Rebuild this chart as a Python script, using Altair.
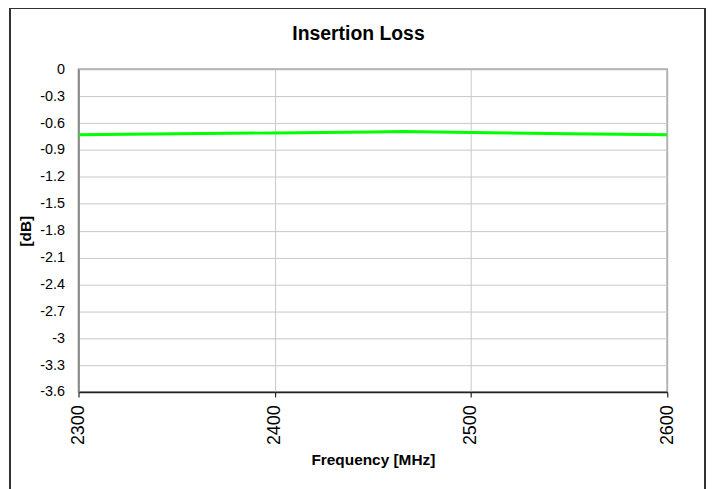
import altair as alt
import pandas as pd

freq = [2300, 2350, 2400, 2450, 2465, 2500, 2550, 2600]
loss = [-0.73, -0.72, -0.71, -0.70, -0.695, -0.705, -0.72, -0.73]
y_ticks = [0, -0.3, -0.6, -0.9, -1.2, -1.5, -1.8, -2.1, -2.4, -2.7, -3.0, -3.3, -3.6]
x_ticks = [2300, 2400, 2500, 2600]
title_text = ["Insertion Loss"]

df = pd.DataFrame({"freq": freq, "loss": loss})
tdf = pd.DataFrame({"t": title_text})

W, H = 593, 325
FONT = "Liberation Sans"

line = alt.Chart(df).mark_line(color="#00ff00", strokeWidth=3, clip=True).encode(
    x=alt.X("freq:Q", scale=alt.Scale(domain=[2300, 2600], nice=False),
            axis=alt.Axis(values=x_ticks, format="d", title="Frequency [MHz]", labelAngle=270,
                          labelAlign="right", labelBaseline="middle",
                          labelFont=FONT, labelFontSize=18, labelColor="black",
                          titleFont=FONT, titleFontSize=15.5, titleFontWeight="bold",
                          titleColor="black", titlePadding=8,
                          domainColor="#222222", domainWidth=1.5,
                          tickColor="#222222", tickSize=5, tickWidth=1.2, labelPadding=8,
                          gridColor="#c8c8c8")),
    y=alt.Y("loss:Q", scale=alt.Scale(domain=[-3.6, 0], nice=False),
            axis=alt.Axis(values=y_ticks, format=".1~f",
                          labelExpr="replace(datum.label, '\u2212', '-')",
                          title="[dB]",
                          labelFont=FONT, labelFontSize=14.5, labelColor="black",
                          titleFont=FONT, titleFontSize=15.5, titleFontWeight="bold",
                          titleColor="black", titlePadding=6,
                          domainColor="#808080", domainWidth=1.5,
                          ticks=False, labelPadding=14,
                          gridColor="#c8c8c8")),
)

frame = alt.Chart(df).mark_rect(fill=None, stroke="#333333", strokeWidth=1.5).encode(
    x=alt.value(-69), x2=alt.value(631), y=alt.value(-62), y2=alt.value(430)
)

title = alt.Chart(tdf).mark_text(font=FONT, fontSize=19.5, fontWeight="bold", color="black",
                                 align="center", baseline="alphabetic").encode(
    text="t:N", x=alt.value(282), y=alt.value(-29)
)

chart = alt.layer(frame, line, title).properties(
    width=W, height=H,
    autosize=alt.AutoSizeParams(type="none"),
    padding={"left": 71, "top": 60, "right": 39, "bottom": 96},
).configure_view(stroke="#808080", strokeWidth=1.5)

chart.save("out.html", embed_options={"renderer": "svg", "actions": False})
